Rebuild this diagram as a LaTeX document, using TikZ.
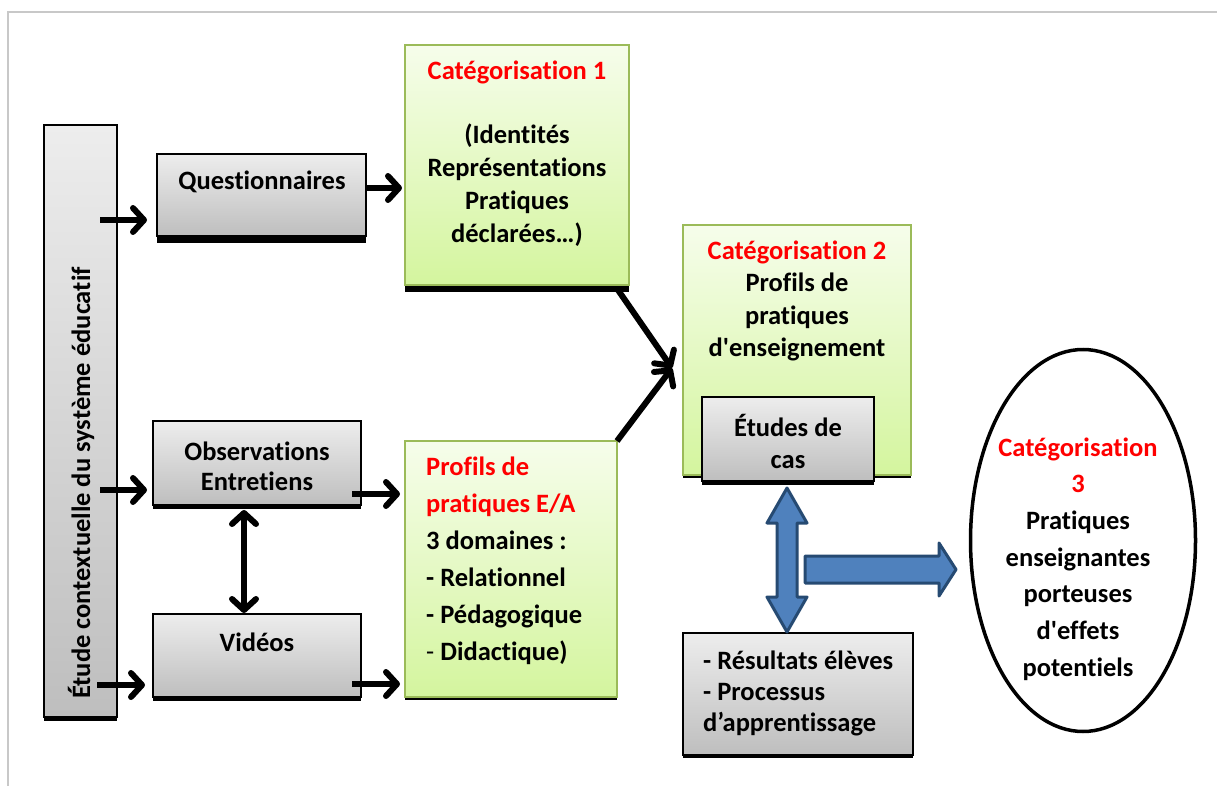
\documentclass[tikz,border=0pt]{standalone}
\usepackage{fontspec}
\setmainfont{Carlito}[Ligatures={NoCommon}]
\usepackage{tikz}
\usetikzlibrary{calc,arrows.meta,shapes.geometric,shadows}
\definecolor{boxtop}{HTML}{EDEDED}
\definecolor{boxbot}{HTML}{BEBEBE}
\definecolor{greentop}{HTML}{F6FDEB}
\definecolor{greenbot}{HTML}{D4F59E}
\definecolor{boxgreen}{HTML}{9BBB59}
\definecolor{catred}{HTML}{FF0000}
\definecolor{arrowblue}{HTML}{4F81BD}
\definecolor{arrowdark}{HTML}{264A72}
\definecolor{framegray}{HTML}{C8C8C8}

\begin{document}
\begin{tikzpicture}[x=1pt,y=-1pt,
  greybox/.style={draw=black,line width=1.5pt,top color=boxtop,bottom color=boxbot,inner sep=0pt,outer sep=0pt},
  greenbox/.style={draw=boxgreen,line width=2pt,top color=greentop,bottom color=greenbot,inner sep=0pt,outer sep=0pt},
  shad/.style={drop shadow={shadow xshift=0pt,shadow yshift=-#1,fill=black,opacity=1}},
  shad/.default=4pt,
  txt/.style={inner sep=0pt,align=center,font=\fontsize{26.5}{#1}\selectfont\bfseries},
  txt/.default=33,
  arr/.style={line width=6pt,-{Straight Barb[length=11pt,width=24pt,round]}},
  darr/.style={line width=6pt,{Straight Barb[length=11pt,width=24pt,round]}-{Straight Barb[length=11pt,width=24pt,round]}},
  blk/.style={fill=arrowblue,draw=arrowdark,line width=3pt,line join=round}]
              \useasboundingbox(0,0)rectangle(1217,786);
              \draw[framegray,line width=2pt](8,786)--(8,12)--(1217,12);
              \node[greybox,shad,minimum width=73pt,minimum height=592pt](bar)at(80.5,421){};
              \node[greybox,shad=7pt,minimum width=209pt,minimum height=82pt](q)at(261.5,195){};
              \node[greybox,shad,minimum width=208pt,minimum height=84pt](obs)at(257,463){};
              \node[greybox,shad,minimum width=208pt,minimum height=83pt](vid)at(257,655.5){};
              \node[greenbox,shad=7pt,minimum width=224pt,minimum height=240pt](cat1)at(517,165){};
              \node[greenbox,shad=3pt,minimum width=212pt,minimum height=256pt](prof)at(511,569){};
              \node[greenbox,shad=3pt,minimum width=228pt,minimum height=250pt](cat2)at(797,350){};
              \node[greybox,shad,minimum width=172pt,minimum height=84pt](etu)at(788,439){};
              \node[greybox,shad=3pt,minimum width=230pt,minimum height=122pt](res)at(798,694){};
              \node[ellipse,draw,line width=3.5pt,minimum width=225pt,minimum height=382pt,inner sep=0pt](ell)at(1083,540.5){};
              \node[txt,rotate=90](bart)at(81,483){Étude contextuelle du système éducatif};
              \node[txt](qt)at(262,182){Questionnaires};
              \node[txt=30](obst)at(257,466){Observations\\Entretiens};
              \node[txt](vidt)at(257,642){Vidéos};
              \node[txt](cat1t)at(517,154){\textcolor{catred}{Catégorisation 1}\\[31pt](Identités\\Représentations\\Pratiques\\déclarées…)};
              \node[txt=37,align=left,anchor=west](proft)at(426,561){\textcolor{catred}{Profils de}\\\textcolor{catred}{pratiques E/A}\\3 domaines :\\- Relationnel\\- Pédagogique\\{\mdseries -} Didactique)};
              \node[txt=32.5](cat2t)at(797,301){\textcolor{catred}{Catégorisation 2}\\Profils de\\pratiques\\d\textquotesingle enseignement};
              \node[txt=32](etut)at(788,441){Études de\\cas};
              \node[txt=31,align=left,anchor=west](rest)at(703,693){- Résultats élèves\\- Processus\\d’apprentissage};
              \node[txt=36.7](ellt)at(1078,559){\textcolor{catred}{Catégorisation}\\\textcolor{catred}{3}\\Pratiques\\enseignantes\\porteuses\\d\textquotesingle effets\\potentiels};
              \coordinate(meet)at([shift={(-11,18)}]cat2.west);
              \draw[arr]([shift={(-17,-16)}]bar.east|-q.south)--([shift={(-10,-16)}]q.south west);
              \draw[arr]([shift={(-17,-15)}]bar.east|-obs.south)--([shift={(-6,-15)}]obs.south west);
              \draw[arr]([shift={(-20,-12)}]bar.east|-vid.south)--([shift={(-8,-12)}]vid.south west);
              \draw[arr,shorten >=3pt]([yshift=7pt]q.east)--([yshift=7pt]q.east-|cat1.west);
              \draw[arr,shorten >=5pt]([shift={(-9,-11)}]obs.south east)--([yshift=11pt]obs.south east-|prof.west);
              \draw[arr,shorten >=5pt]([shift={(-9,-13)}]vid.south east)--([yshift=13pt]vid.south east-|prof.west);
              \draw[darr]([shift={(-13,5)}]obs.south)--([shift={(-13,-1)}]vid.north);
              \draw[arr]([shift={(-11,5)}]cat1.south east)--(meet);
              \draw[arr](prof.north east)--(meet);
              \draw[blk](787,488)--(807,523)--(797,523)--(797,597)--(807,597)--(787,632)--(767,597)--(777,597)--(777,523)--(767,523)--cycle;
              \draw[blk](805,556)--(939,556)--(939,543)--(956,569.5)--(939,596)--(939,583)--(805,583)--cycle;
            \end{tikzpicture}
\end{document}
